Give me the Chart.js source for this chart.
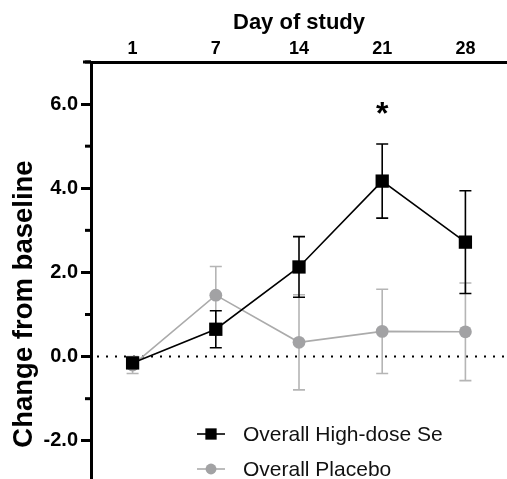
<!DOCTYPE html>
<html>
<head>
<meta charset="utf-8">
<script src="https://cdn.jsdelivr.net/npm/chart.js@4/dist/chart.umd.min.js"></script>
<style>
  html, body { margin: 0; padding: 0; background: #fff; overflow: hidden; }
  #wrap { position: relative; width: 507px; height: 561px; }
</style>
</head>
<body>
<div id="wrap"><canvas id="c"></canvas></div>
<script>
// ---- data ----
const days = ['1', '7', '14', '21', '28'];
const highDose = [-0.15, 0.65, 2.13, 4.17, 2.72];
const highDoseErr = [0.10, 0.44, 0.72, 0.88, 1.22];
const placebo = [-0.20, 1.46, 0.34, 0.60, 0.59];
const placeboErr = [0.20, 0.68, 1.13, 1.00, 1.16];
const significance = ['', '', '', '*', ''];
const significanceAt = 5.9;
const yMin = -4.5, yMax = 7.0;
const seriesNames = ['Overall High-dose Se', 'Overall Placebo'];

const FONT = 'Arial, "Liberation Sans", Helvetica, sans-serif';
const errs = [highDoseErr, placeboErr];
const errColors = ['#000000', '#b5b5b5'];

const errorBars = {
  id: 'errorBars',
  beforeDatasetsDraw(chart) {
    const ctx = chart.ctx, y = chart.scales.y;
    ctx.save();
    // zero reference line (dotted)
    const y0 = y.getPixelForValue(0);
    ctx.strokeStyle = '#000';
    ctx.lineWidth = 2;
    ctx.setLineDash([2, 7]);
    ctx.beginPath();
    ctx.moveTo(chart.chartArea.left + 6, y0);
    ctx.lineTo(chart.chartArea.right, y0);
    ctx.stroke();
    ctx.setLineDash([]);
    // error bars
    for (let d = chart.data.datasets.length - 1; d >= 0; d--) {
      const meta = chart.getDatasetMeta(d);
      const vals = chart.data.datasets[d].data;
      ctx.strokeStyle = errColors[d];
      ctx.lineWidth = 1.6;
      meta.data.forEach((pt, i) => {
        const e = errs[d][i];
        const top = y.getPixelForValue(vals[i] + e);
        const bot = y.getPixelForValue(vals[i] - e);
        ctx.beginPath();
        ctx.moveTo(pt.x, top); ctx.lineTo(pt.x, bot);
        ctx.moveTo(pt.x - 6, top); ctx.lineTo(pt.x + 6, top);
        ctx.moveTo(pt.x - 6, bot); ctx.lineTo(pt.x + 6, bot);
        ctx.stroke();
      });
    }
    ctx.restore();
  },
  afterDatasetsDraw(chart) {
    const ctx = chart.ctx, x = chart.scales.x, y = chart.scales.y;
    ctx.save();
    // significance marks
    ctx.fillStyle = '#000';
    ctx.font = 'bold 32px ' + FONT;
    ctx.textAlign = 'center';
    ctx.textBaseline = 'alphabetic';
    significance.forEach((s, i) => {
      if (!s) return;
      const m = ctx.measureText(s);
      const cy = y.getPixelForValue(significanceAt);
      const base = cy + (m.actualBoundingBoxAscent - m.actualBoundingBoxDescent) / 2;
      ctx.fillText(s, x.getPixelForValue(i), base);
    });
    // minor ticks on the y axis
    ctx.strokeStyle = '#000';
    ctx.lineWidth = 3;
    for (let v = Math.ceil(yMin); v <= yMax; v++) {
      if (v % 2 === 0) continue;
      const py = y.getPixelForValue(v);
      ctx.beginPath();
      ctx.moveTo(chart.chartArea.left - 6, py);
      ctx.lineTo(chart.chartArea.left, py);
      ctx.stroke();
    }
    // extend top axis line slightly to the left
    ctx.beginPath();
    ctx.moveTo(chart.chartArea.left - 8, chart.chartArea.top);
    ctx.lineTo(chart.chartArea.left, chart.chartArea.top);
    ctx.stroke();
    // legend in lower part of plot
    const lx = 197, lx2 = 225, tx = 243;
    const rows = [434, 469];
    chart.data.datasets.forEach((ds, i) => {
      const ly = rows[i];
      ctx.strokeStyle = ds.borderColor;
      ctx.lineWidth = 1.6;
      ctx.beginPath(); ctx.moveTo(lx, ly); ctx.lineTo(lx2, ly); ctx.stroke();
      ctx.fillStyle = ds.pointBackgroundColor;
      Chart.helpers.drawPoint(ctx, {pointStyle: ds.pointStyle, radius: ds.pointRadius * 0.85, borderWidth: 0}, (lx + lx2) / 2, ly);
      ctx.fillStyle = '#111';
      ctx.font = '21px ' + FONT;
      ctx.textAlign = 'left';
      ctx.textBaseline = 'middle';
      ctx.fillText(ds.label, tx, ly + 1);
    });
    ctx.restore();
  }
};

new Chart(document.getElementById('c'), {
  type: 'line',
  data: {
    labels: days,
    datasets: [
      {
        label: seriesNames[0], data: highDose,
        borderColor: '#000', borderWidth: 1.6,
        pointStyle: 'rect', pointRadius: 9.4,
        pointBackgroundColor: '#000', pointBorderColor: '#000', pointBorderWidth: 0,
        tension: 0, clip: false
      },
      {
        label: seriesNames[1], data: placebo,
        borderColor: '#ababab', borderWidth: 1.6,
        pointStyle: 'circle', pointRadius: 6.4,
        pointBackgroundColor: '#a2a2a4', pointBorderColor: '#a2a2a4', pointBorderWidth: 0,
        tension: 0, clip: false
      }
    ]
  },
  options: {
    responsive: true, maintainAspectRatio: false, animation: false,
    layout: { autoPadding: false, padding: { top: 0, right: 0, bottom: 1, left: 0 } },
    plugins: { legend: { display: false }, tooltip: { enabled: false } },
    scales: {
      x: {
        type: 'category', position: 'top', offset: true,
        grid: { display: false, drawTicks: false },
        border: { display: true, color: '#000', width: 3 },
        ticks: { color: '#000', font: { family: FONT, size: 18, weight: 'bold' }, padding: 2, maxRotation: 0 },
        title: { display: true, text: 'Day of study', color: '#000', font: { family: FONT, size: 22, weight: 'bold' }, padding: { top: 10, bottom: 0 } },
        afterFit(s) { s.height = 62; }
      },
      y: {
        min: yMin, max: yMax,
        grid: { display: true, drawOnChartArea: false, drawTicks: true, tickLength: 10, tickWidth: 3,
                tickColor: (c) => (c.tick && c.tick.value % 2 === 0) ? '#000' : 'rgba(0,0,0,0)' },
        border: { display: true, color: '#000', width: 3 },
        ticks: { stepSize: 1, color: '#000', padding: 3, font: { family: FONT, size: 20, weight: 'bold' },
                 callback: (v) => (v % 2 === 0) ? v.toFixed(1) : '' },
        title: { display: true, text: 'Change from baseline', color: '#000', font: { family: FONT, size: 27.5, weight: 'bold' }, padding: { top: 8, bottom: 0 } },
        afterFit(s) { s.width = 91; }
      }
    }
  },
  plugins: [errorBars]
});
</script>
</body>
</html>
